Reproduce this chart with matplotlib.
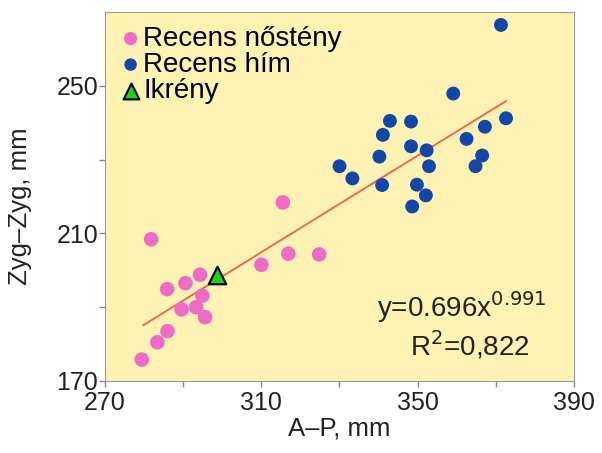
import numpy as np
import matplotlib.pyplot as plt

plt.rcParams['font.family'] = ['Liberation Sans', 'DejaVu Sans']

# Recens nostény (female)
female_x = [281.8, 315.5, 310.0, 316.9, 324.8, 294.3, 290.6, 285.9, 294.9,
            289.6, 293.3, 295.6, 286.0, 283.4, 279.4]
female_y = [208.4, 218.4, 201.5, 204.5, 204.3, 198.8, 196.5, 194.9, 193.1,
            189.4, 190.0, 187.3, 183.5, 180.5, 175.8]

# Recens hím (male)
male_x = [371.3, 359.1, 372.6, 367.2, 362.5, 342.9, 348.3, 341.1, 348.3, 352.3,
          340.2, 366.5, 352.9, 364.8, 330.0, 333.3, 340.9, 349.8, 352.1, 348.6]
male_y = [266.5, 247.9, 241.2, 238.9, 235.6, 240.5, 240.3, 236.7, 233.6, 232.5,
          230.8, 231.1, 228.2, 228.2, 228.2, 224.9, 223.1, 223.2, 220.3, 217.3]

# Ikrény
ikreny_x = [298.6]
ikreny_y = [198.8]

# power fit shown on chart
fit_a = 0.696
fit_b = 0.991
fit_xmin, fit_xmax = 279.8, 372.6

fig = plt.figure(figsize=(6.02, 4.53), dpi=100)
ax = fig.add_axes([0.1744, 0.159, 0.7791, 0.8145])
ax.set_facecolor('#FFF2B2')

xf = np.linspace(fit_xmin, fit_xmax, 50)
ax.plot(xf, fit_a * xf ** fit_b, color='#F2604E', lw=1.3, zorder=2)

ax.scatter(female_x, female_y, s=110, color='#EE6CC8', edgecolors='none',
           zorder=3, label='Recens nőstény')
ax.scatter(male_x, male_y, s=100, color='#1448A8', edgecolors='none',
           zorder=3, label='Recens hím')
ax.scatter(ikreny_x, ikreny_y, s=160, marker='^', color='#22D022',
           edgecolors='black', linewidths=1.5, zorder=4, label='Ikrény')

ax.set_xlim(270, 390)
ax.set_ylim(170, 270)
ax.set_xticks(np.arange(270, 391, 20))
ax.set_xticklabels(['270', '', '310', '', '350', '', '390'])
ax.set_yticks(np.arange(170, 251, 20))
ax.set_yticklabels(['170', '', '210', '', '250'])
ax.tick_params(direction='out', length=4, width=1, colors='#888888',
               labelcolor='#222222', labelsize=18, pad=1)
ax.tick_params(axis='x', pad=3)
for s in ax.spines.values():
    s.set_color('#999999')

ax.set_xlabel('A–P, mm', fontsize=18.5, color='#222222', labelpad=1)
ax.set_ylabel('Zyg–Zyg, mm', fontsize=18.5, color='#222222')
ax.yaxis.set_label_coords(-0.155, 0.474)

ax.text(339.6, 187.3, r'y=0.696x$^{0.991}$', fontsize=20, color='#222222',
        va='baseline')
ax.text(348.0, 177.0, r'R$^{2}$=0,822', fontsize=20, color='#222222',
        va='baseline')

ax.legend(loc='upper left', bbox_to_anchor=(0.022, 0.985), frameon=False,
          fontsize=20, handlelength=0.5, handletextpad=0.2, labelspacing=0.0,
          borderaxespad=0.0, borderpad=0.3, markerscale=0.9)

fig.savefig('out.png', dpi=100)
